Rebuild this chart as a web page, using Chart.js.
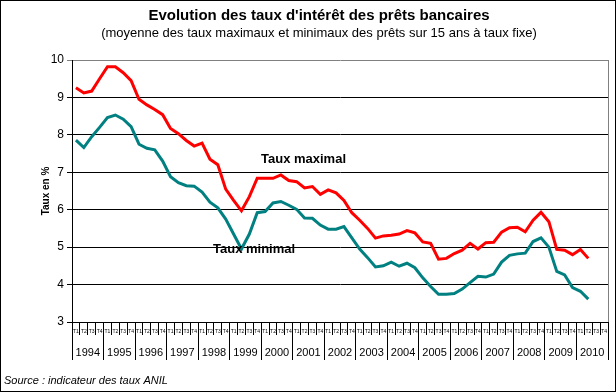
<!DOCTYPE html>
<html>
<head>
<meta charset="utf-8">
<script src="https://cdn.jsdelivr.net/npm/chart.js@4/dist/chart.umd.min.js"></script>
<style>
body { margin: 0; background: #fff; }
#wrap { width: 616px; height: 392px; box-sizing: border-box; border: 1px solid #000; background: #fff; }
canvas { display: block; }
</style>
</head>
<body>
<div id="wrap"><canvas id="chart" width="614" height="390"></canvas></div>
<script>
const years = ['1994', '1995', '1996', '1997', '1998', '1999', '2000', '2001', '2002',
  '2003', '2004', '2005', '2006', '2007', '2008', '2009', '2010'];
const quarterNames = ['T1', 'T2', 'T3', 'T4'];

// taux maximal, trimestriel, 1994 T1 -> 2010 T2
const tauxMax = [9.26, 9.12, 9.17, 9.50, 9.82, 9.82, 9.66, 9.45,
  8.95, 8.80, 8.68, 8.54, 8.17, 8.03, 7.85, 7.70,
  7.78, 7.35, 7.20, 6.55, 6.25, 5.97, 6.35, 6.84,
  6.84, 6.84, 6.93, 6.78, 6.75, 6.58, 6.62, 6.41,
  6.53, 6.45, 6.25, 5.92, 5.72, 5.50, 5.24, 5.30,
  5.32, 5.35, 5.44, 5.38, 5.14, 5.10, 4.68, 4.70,
  4.83, 4.92, 5.10, 4.95, 5.12, 5.13, 5.40, 5.52,
  5.53, 5.41, 5.72, 5.93, 5.68, 4.94, 4.92, 4.80,
  4.94, 4.70];

// taux minimal
const tauxMin = [7.86, 7.66, 7.95, 8.20, 8.46, 8.53, 8.42, 8.22,
  7.75, 7.64, 7.60, 7.30, 6.88, 6.72, 6.64, 6.63,
  6.47, 6.20, 6.05, 5.75, 5.35, 4.95, 5.35, 5.92,
  5.95, 6.18, 6.22, 6.12, 6.01, 5.78, 5.77, 5.59,
  5.48, 5.48, 5.55, 5.25, 4.95, 4.72, 4.47, 4.50,
  4.60, 4.49, 4.57, 4.45, 4.18, 3.95, 3.74, 3.74,
  3.76, 3.88, 4.05, 4.22, 4.20, 4.28, 4.60, 4.78,
  4.82, 4.84, 5.15, 5.25, 5.00, 4.35, 4.26, 3.92,
  3.82, 3.61];

const quarters = [];
years.forEach(y => quarterNames.forEach(q => quarters.push(q)));

Chart.defaults.font.family = "'Liberation Sans', Arial, sans-serif";
Chart.defaults.color = '#000';

const decor = {
  id: 'decor',
  afterDraw(chart) {
    const ctx = chart.ctx;
    const area = chart.chartArea;
    ctx.save();
    // bord droit de la zone de tracé
    ctx.strokeStyle = '#808080';
    ctx.lineWidth = 1;
    ctx.beginPath();
    ctx.moveTo(Math.round(area.right) + 0.5, area.top);
    ctx.lineTo(Math.round(area.right) + 0.5, area.bottom);
    ctx.stroke();

    ctx.fillStyle = '#000';
    ctx.textAlign = 'center';
    ctx.textBaseline = 'middle';
    ctx.font = "bold 15px 'Liberation Sans', Arial, sans-serif";
    ctx.fillText("Evolution des taux d'intérêt des prêts bancaires", 318, 15);
    ctx.font = "13px 'Liberation Sans', Arial, sans-serif";
    ctx.fillText("(moyenne des taux maximaux et minimaux des prêts sur 15 ans à taux fixe)", 318, 32);

    ctx.textAlign = 'left';
    ctx.font = "bold 13px 'Liberation Sans', Arial, sans-serif";
    ctx.fillText('Taux maximal', 260, 158);
    ctx.fillText('Taux minimal', 212, 248);

    ctx.font = "italic 11px 'Liberation Sans', Arial, sans-serif";
    ctx.fillText('Source : indicateur des taux ANIL', 3, 380);
    ctx.restore();
  }
};

new Chart(document.getElementById('chart'), {
  type: 'line',
  data: {
    labels: quarters,
    datasets: [
      {
        label: 'Taux maximal',
        data: tauxMax,
        borderColor: '#ff0000',
        borderWidth: 3,
        pointRadius: 0,
        tension: 0
      },
      {
        label: 'Taux minimal',
        data: tauxMin,
        borderColor: '#008080',
        borderWidth: 3,
        pointRadius: 0,
        tension: 0
      }
    ]
  },
  options: {
    responsive: false,
    animation: false,
    layout: { padding: { top: 59, right: 7, bottom: 31, left: 0 } },
    plugins: {
      legend: { display: false },
      tooltip: { enabled: false }
    },
    scales: {
      x: {
        type: 'category',
        position: 'bottom',
        weight: 0,
        offset: true,
        grid: { offset: true, drawOnChartArea: false, tickLength: 13, color: '#000' },
        border: { color: '#000' },
        ticks: { autoSkip: false, maxRotation: 0, minRotation: 0, font: { size: 5 }, padding: -6 },
        afterFit: s => { s.height = 13; }
      },
      x2: {
        type: 'category',
        labels: years,
        position: 'bottom',
        weight: 1,
        offset: true,
        grid: { offset: true, drawOnChartArea: false, tickLength: 25, color: '#000' },
        border: { display: false },
        ticks: { autoSkip: false, maxRotation: 0, minRotation: 0, font: { size: 11 }, padding: -14 },
        afterFit: s => { s.height = 25; }
      },
      y: {
        min: 3,
        max: 10,
        ticks: { stepSize: 1, font: { size: 12 }, padding: 3 },
        grid: {
          color: c => (c.tick && c.tick.value === 10 ? '#808080' : '#000'),
          tickLength: 5
        },
        border: { color: '#000' },
        title: {
          display: true,
          text: 'Taux en %',
          font: { size: 10, weight: 'bold' },
          padding: { top: 39, bottom: 0 }
        },
        afterFit: s => { s.width = 71; }
      }
    }
  },
  plugins: [decor]
});
</script>
</body>
</html>
